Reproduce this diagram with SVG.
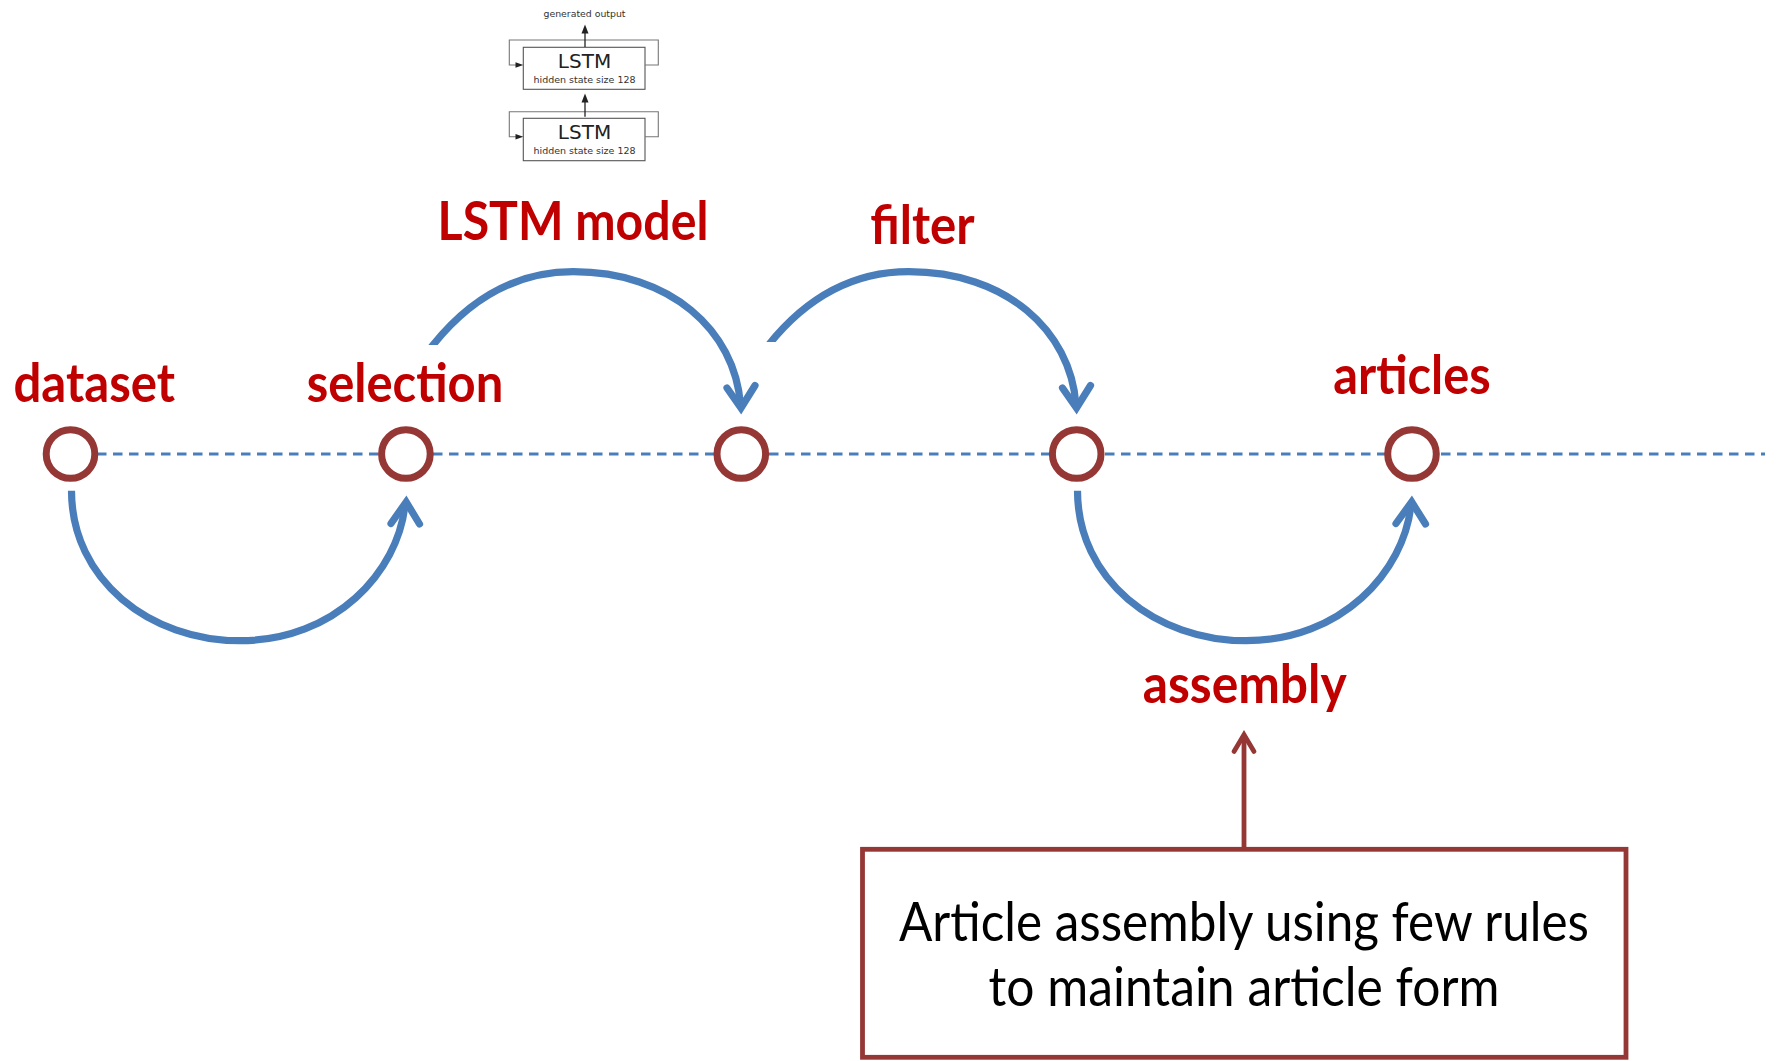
<svg xmlns="http://www.w3.org/2000/svg" width="1777" height="1061" viewBox="0 0 1777 1061">
  <style>
    .lbl { font-family: Lato, "Liberation Sans", sans-serif; font-weight: bold; font-size: 53px; fill: #C00000; text-anchor: middle; }
    .boxtxt { font-family: Lato, "Liberation Sans", sans-serif; font-size: 54px; fill: #000000; text-anchor: middle; }
    .node { fill: #FFFFFF; stroke: #953735; stroke-width: 7; }
    .timeline { fill: none; stroke: #4A7EBB; stroke-width: 2.8; stroke-dasharray: 9.5 6.5; }
    .arc { fill: none; stroke: #4A7EBB; stroke-width: 7.2; stroke-linecap: butt; }
    .chev { fill: none; stroke: #4A7EBB; stroke-width: 7.2; stroke-linecap: round; stroke-linejoin: miter; stroke-miterlimit: 10; }
    .redline { fill: none; stroke: #953735; stroke-width: 4.8; stroke-linecap: butt; }
    .redchev { fill: none; stroke: #953735; stroke-width: 4.8; stroke-linecap: round; stroke-linejoin: miter; stroke-miterlimit: 10; }
    .lstmbox { fill: #FFFFFF; stroke: #555555; stroke-width: 1.1; }
    .loop { fill: none; stroke: #777777; stroke-width: 1.1; }
    .lstmbig { font-family: "DejaVu Sans", Verdana, sans-serif; font-size: 20px; fill: #222222; text-anchor: middle; }
    .lstmsmall { font-family: "DejaVu Sans", Verdana, sans-serif; font-size: 8.5px; fill: #333333; text-anchor: middle; }
  </style>
  <defs>
    <clipPath id="clip2">
      <path clip-rule="evenodd" d="M0,0H1777V1061H0Z M400,345H470V430H400Z"/>
    </clipPath>
    <clipPath id="clip3">
      <path clip-rule="evenodd" d="M0,0H1777V1061H0Z M735,342H805V430H735Z"/>
    </clipPath>
  </defs>

  <rect x="0" y="0" width="1777" height="1061" fill="#FFFFFF"/>

  <!-- LSTM figure -->
  <g id="lstm-figure">
    <g id="lstm-top">
      <rect class="lstmbox" x="523.3" y="47.3" width="121.7" height="42"/>
      <text class="lstmbig" x="584.5" y="68.3" textLength="53.3" lengthAdjust="spacingAndGlyphs">LSTM</text>
      <text class="lstmsmall" x="584.5" y="82.7" textLength="102" lengthAdjust="spacingAndGlyphs">hidden state size 128</text>
      <path class="loop" d="M645,65 H658.3 V40 H509.3 V65 H516"/>
      <path d="M523.3,65 L515.5,62.3 L515.5,67.7 Z" fill="#222222"/>
    </g>
    <g id="lstm-bottom">
      <rect class="lstmbox" x="523.3" y="118.3" width="121.7" height="42.4"/>
      <text class="lstmbig" x="584.5" y="139.3" textLength="53.3" lengthAdjust="spacingAndGlyphs">LSTM</text>
      <text class="lstmsmall" x="584.5" y="154" textLength="102" lengthAdjust="spacingAndGlyphs">hidden state size 128</text>
      <path class="loop" d="M645,136.7 H658.3 V111.7 H509.3 V136.7 H516"/>
      <path d="M523.3,136.7 L515.5,134 L515.5,139.4 Z" fill="#222222"/>
    </g>
    <g id="lstm-arrows">
      <line x1="585" y1="116.7" x2="585" y2="100" stroke="#222222" stroke-width="1.3"/>
      <path d="M585,93.5 L581.5,102.5 L588.5,102.5 Z" fill="#222222"/>
      <line x1="585" y1="47" x2="585" y2="31" stroke="#222222" stroke-width="1.3"/>
      <path d="M585,24.5 L581.5,33.5 L588.5,33.5 Z" fill="#222222"/>
    </g>
    <text id="lstm-output" class="lstmsmall" x="584.5" y="17.3" textLength="82" lengthAdjust="spacingAndGlyphs">generated output</text>
  </g>

  <!-- connectors -->
  <g id="connectors">
    <line class="timeline" x1="97" y1="454" x2="1765" y2="454"/>

    <g id="arc-dataset-selection">
      <path class="arc" d="M71.5,490.7 C71.5,580 150,640.7 240,640.7 C335,640.7 398,572 405,505"/>
      <path class="chev" d="M391,523.5 L406.2,502 L419.5,524"/>
    </g>
    <g id="arc-selection-model" clip-path="url(#clip2)">
      <path class="arc" d="M426.8,352.8 L433,345 C473,295 520,271.7 573.3,271.7 C670,271.7 735,330 740.5,405"/>
    </g>
    <path class="chev" d="M727,388 L741,408 L755,385.5"/>
    <g id="arc-model-filter" clip-path="url(#clip3)">
      <path class="arc" d="M762.3,352.8 L768.5,345 C808.5,295 855.5,271.7 908.8,271.7 C1005.5,271.7 1070.5,330 1076,405"/>
    </g>
    <path class="chev" d="M1062.5,388 L1076.5,408 L1090.5,385.5"/>
    <g id="arc-filter-articles">
      <path class="arc" d="M1077.5,490.7 C1077.5,580 1156,640.7 1246,640.7 C1341,640.7 1404,572 1411,505"/>
      <path class="chev" d="M1396,523.5 L1411.7,502 L1425.5,524"/>
    </g>
    <g id="arrow-box-assembly">
      <line class="redline" x1="1244" y1="849" x2="1244" y2="738"/>
      <path class="redchev" d="M1234,751.5 L1244,734.7 L1254,751.5"/>
    </g>
  </g>

  <!-- nodes -->
  <g id="node-dataset">
    <circle class="node" cx="70.5" cy="454" r="24.3"/>
    <text class="lbl" x="94.3" y="401.7" textLength="161.7" lengthAdjust="spacingAndGlyphs">dataset</text>
  </g>
  <g id="node-selection">
    <circle class="node" cx="405.9" cy="454" r="24.3"/>
    <text class="lbl" x="405" y="401.7" textLength="196.6" lengthAdjust="spacingAndGlyphs">selection</text>
  </g>
  <g id="node-model">
    <circle class="node" cx="741.3" cy="454" r="24.3"/>
  </g>
  <g id="node-filter">
    <circle class="node" cx="1076.7" cy="454" r="24.3"/>
  </g>
  <g id="node-articles">
    <circle class="node" cx="1412" cy="454" r="24.3"/>
    <text class="lbl" x="1412" y="394.3" textLength="157.4" lengthAdjust="spacingAndGlyphs">articles</text>
  </g>

  <g id="label-lstm-model">
    <text class="lbl" x="573" y="240.3" textLength="270.8" lengthAdjust="spacingAndGlyphs">LSTM model</text>
  </g>
  <g id="label-filter">
    <text class="lbl" x="922.5" y="243.7" textLength="104.3" lengthAdjust="spacingAndGlyphs">filter</text>
  </g>
  <g id="label-assembly">
    <text class="lbl" x="1244.7" y="703.3" textLength="204" lengthAdjust="spacingAndGlyphs">assembly</text>
  </g>

  <g id="node-rules-box">
    <rect x="862.5" y="849.3" width="763.5" height="208" fill="#FFFFFF" stroke="#953735" stroke-width="4.8"/>
    <text class="boxtxt" x="1244" y="940.6" textLength="690" lengthAdjust="spacingAndGlyphs">Article assembly using few rules</text>
    <text class="boxtxt" x="1244" y="1006.3" textLength="511" lengthAdjust="spacingAndGlyphs">to maintain article form</text>
  </g>
</svg>
